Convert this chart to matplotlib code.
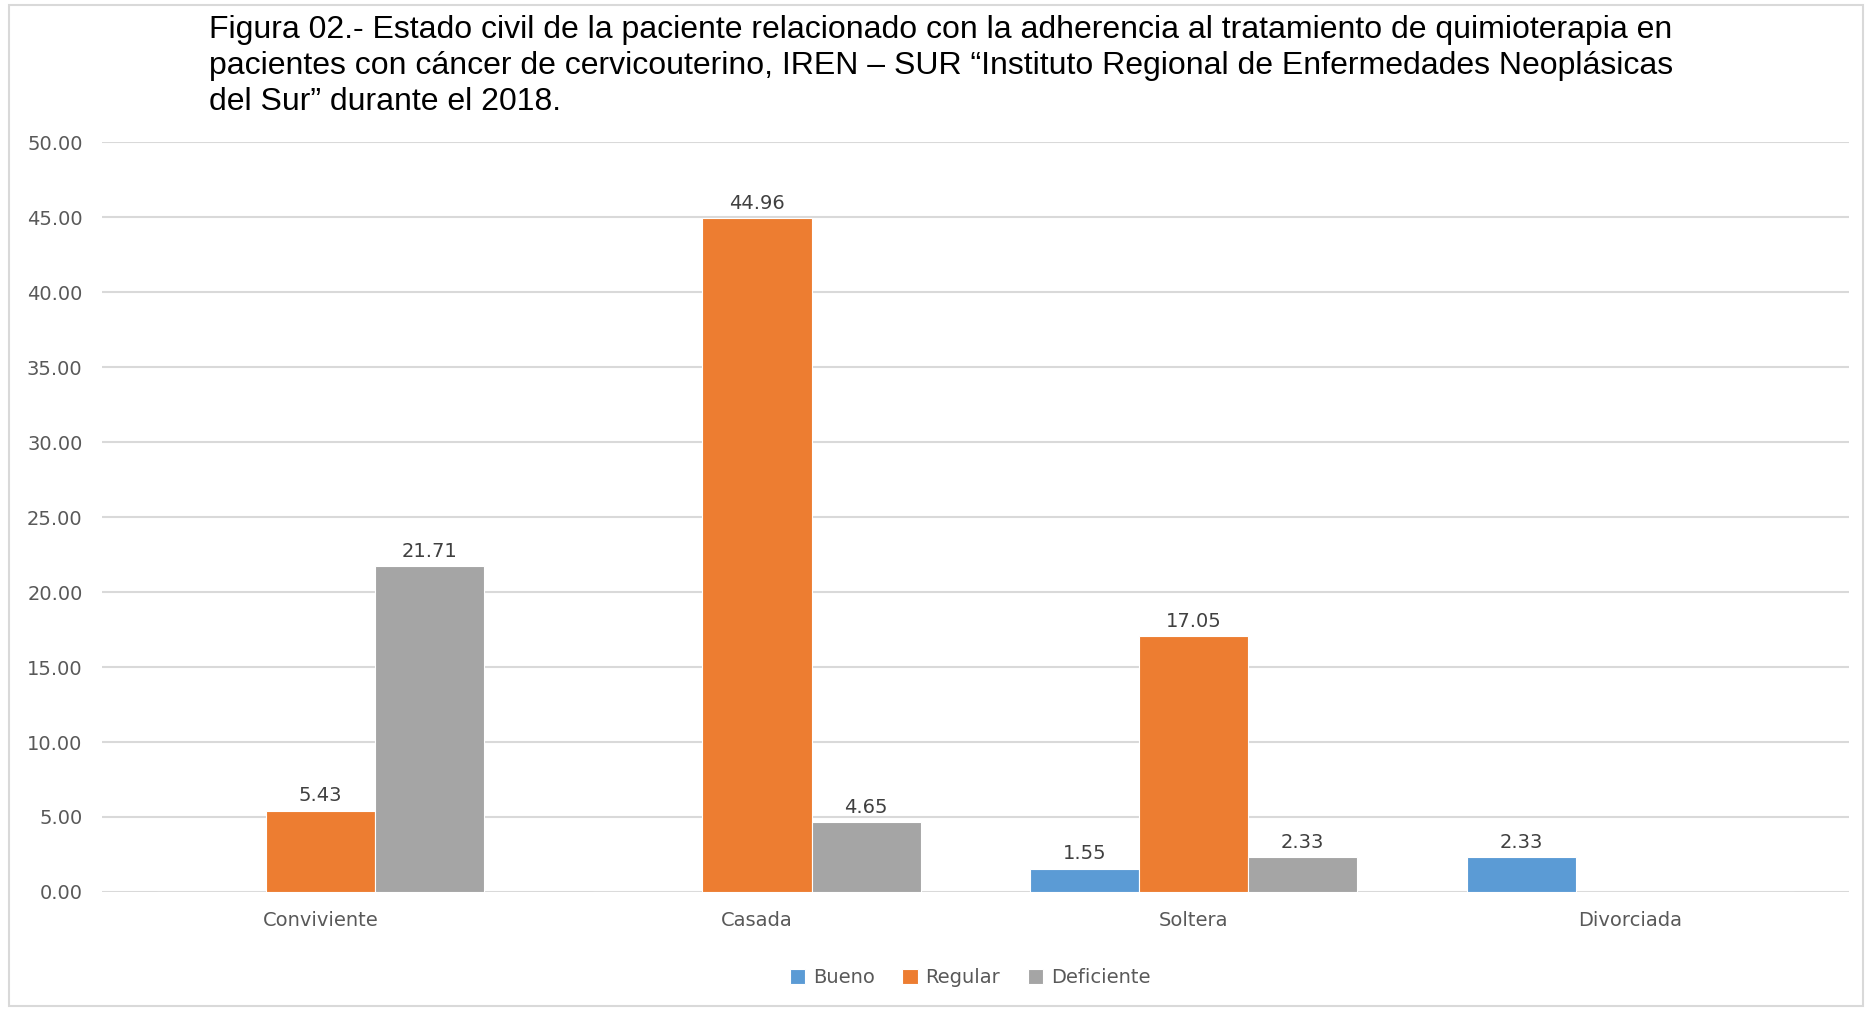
import matplotlib.pyplot as plt
import numpy as np
from matplotlib.patches import Rectangle

categorias = ["Conviviente", "Casada", "Soltera", "Divorciada"]
series = ["Bueno", "Regular", "Deficiente"]
bueno = [None, None, 1.55, 2.33]
regular = [5.43, 44.96, 17.05, None]
deficiente = [21.71, 4.65, 2.33, None]
colores = ["#5b9bd5", "#ed7d31", "#a5a5a5"]

titulo = ("Figura 02.- Estado civil de la paciente relacionado con la adherencia al tratamiento de quimioterapia en\n"
          "pacientes con cáncer de cervicouterino, IREN – SUR \u201cInstituto Regional de Enfermedades Neoplásicas\n"
          "del Sur\u201d durante el 2018.")

fig = plt.figure(figsize=(18.72, 10.09), dpi=100)
ax = fig.add_axes([0.0545, 0.116, 0.933, 0.743])

x = np.arange(len(categorias))
ancho = 0.25
for i, (nombre, valores) in enumerate(zip(series, [bueno, regular, deficiente])):
    vals = np.array([np.nan if v is None else v for v in valores], dtype=float)
    barras = ax.bar(x + (i - 1) * ancho, np.nan_to_num(vals), ancho, color=colores[i],
                    edgecolor="white", linewidth=0.8, label=nombre, zorder=3)
    for b, v in zip(barras, vals):
        if not np.isnan(v):
            ax.text(b.get_x() + b.get_width() / 2, v + 0.35, f"{v:.2f}", ha="center", va="bottom",
                    fontsize=14, color="#404040", family="DejaVu Sans")

ax.set_xlim(-0.5, len(categorias) - 0.5)
ax.set_ylim(0, 50)
ax.set_yticks(np.arange(0, 51, 5))
ax.set_yticklabels([f"{v:.2f}" for v in np.arange(0, 51, 5)])
ax.set_xticks(x)
ax.set_xticklabels(categorias)
ax.tick_params(axis="both", length=0, labelsize=14, labelcolor="#595959")
ax.tick_params(axis="x", pad=14)
ax.tick_params(axis="y", pad=14)
ax.grid(axis="y", color="#d9d9d9", linewidth=1.5, zorder=0)
for s in ax.spines.values():
    s.set_visible(False)

fig.text(0.1115, 0.985, titulo, ha="left", va="top", fontsize=23, family="Liberation Sans",
         color="#000000", linespacing=1.25)

ax.legend(loc="upper center", bbox_to_anchor=(0.497, -0.078), ncol=3, frameon=False,
          fontsize=14, labelcolor="#595959", handlelength=0.8, handleheight=0.8,
          columnspacing=1.4, handletextpad=0.4)

fig.patches.append(Rectangle((0.005, 0.003), 0.99, 0.992, transform=fig.transFigure,
                             fill=False, edgecolor="#d9d9d9", linewidth=1.5))

fig.savefig("out.png", dpi=100)
